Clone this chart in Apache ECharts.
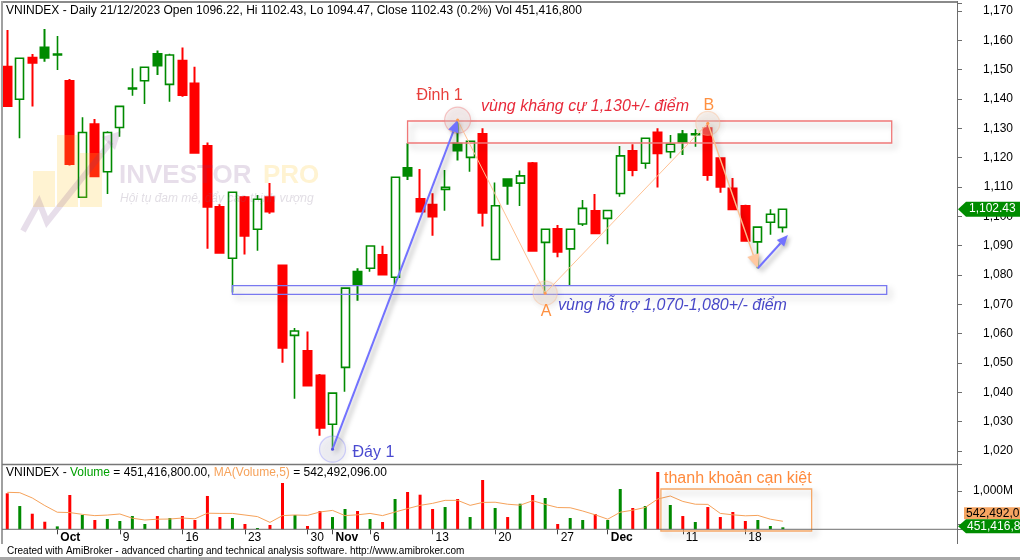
<!DOCTYPE html>
<html><head><meta charset="utf-8">
<script src="https://cdn.jsdelivr.net/npm/echarts@6/dist/echarts.min.js"></script>
<style>html,body{margin:0;padding:0;background:#fff}#c{width:1020px;height:560px}</style>
</head><body><div id="c"></div>
<script>
// ---------------- DATA ----------------
const dates = ['26/09','27/09','28/09','29/09',
 '02/10','03/10','04/10','05/10','06/10','09/10','10/10','11/10','12/10','13/10',
 '16/10','17/10','18/10','19/10','20/10','23/10','24/10','25/10','26/10','27/10','30/10','31/10',
 '01/11','02/11','03/11','06/11','07/11','08/11','09/11','10/11','13/11','14/11','15/11','16/11','17/11',
 '20/11','21/11','22/11','23/11','24/11','27/11','28/11','29/11','30/11',
 '01/12','04/12','05/12','06/12','07/12','08/12','11/12','12/12','13/12','14/12','15/12',
 '18/12','19/12','20/12','21/12'];
const tickDates = ['02/10','09/10','16/10','23/10','30/10','01/11','06/11','13/11','20/11','27/11','01/12','11/12','18/12'];
const tickTexts = ['Oct','9','16','23','30','Nov','6','13','20','27','Dec','11','18'];
const opens  = [1151.0,1139.9,1154.1,1157.6,1155.0,1146.1,1106.5,1131.4,1115.2,1130.3,1143.4,1146.2,1155.3,1145.0,1153.0,1145.3,1124.0,1103.2,1085.7,1106.5,1095.6,1106.5,1083.2,1059.4,1054.1,1045.7,1029.1,1048.5,1081.1,1082.3,1086.8,1079.2,1116.5,1105.9,1103.9,1109.2,1124.7,1120.1,1128.1,1085.3,1112.6,1111.3,1118.1,1091.1,1095.7,1088.9,1097.4,1101.8,1099.3,1107.8,1122.3,1118.1,1128.6,1122.0,1128.0,1127.8,1130.0,1119.8,1109.5,1103.5,1091.3,1098.0,1096.22];
const highs  = [1163.5,1154.0,1155.3,1163.9,1161.5,1146.8,1133.8,1133.2,1129.0,1137.6,1150.5,1150.9,1156.5,1155.4,1157.6,1151.0,1125.2,1104.1,1108.3,1106.9,1107.3,1111.4,1083.4,1061.9,1060.7,1046.2,1039.8,1075.6,1082.3,1090.0,1090.0,1113.4,1124.9,1116.1,1107.9,1115.8,1132.8,1125.7,1130.0,1111.5,1112.8,1115.6,1118.5,1095.7,1097.0,1095.7,1105.6,1107.6,1102.1,1124.0,1124.6,1126.7,1130.0,1127.7,1129.4,1129.7,1131.7,1120.1,1113.1,1103.9,1096.4,1102.4,1102.43];
const lows   = [1137.4,1126.6,1137.4,1152.7,1149.9,1117.3,1106.3,1113.4,1107.6,1127.1,1141.1,1138.3,1148.2,1139.1,1140.8,1121.5,1088.9,1087.4,1074.0,1087.0,1088.3,1100.9,1050.1,1037.8,1042.0,1025.2,1020.6,1040.2,1071.2,1081.1,1079.8,1076.2,1112.4,1101.5,1093.4,1101.9,1119.0,1115.2,1096.5,1085.2,1103.9,1103.5,1088.2,1073.8,1086.0,1076.6,1096.7,1094.1,1090.5,1106.7,1113.7,1116.2,1109.8,1119.8,1120.9,1123.7,1112.1,1108.0,1102.3,1091.6,1082.3,1093.7,1094.47];
const closes = [1137.6,1153.9,1152.4,1154.1,1155.3,1117.8,1128.6,1113.7,1128.6,1137.5,1143.7,1150.8,1151.4,1155.0,1141.4,1121.7,1103.3,1087.6,1108.2,1093.4,1105.8,1101.6,1055.2,1060.9,1042.3,1027.9,1039.7,1075.5,1076.6,1089.9,1080.2,1113.3,1113.8,1101.6,1099.9,1109.9,1122.4,1125.6,1101.2,1103.6,1110.4,1113.8,1088.3,1095.6,1087.9,1095.6,1102.7,1094.2,1102.0,1120.6,1115.8,1126.6,1121.5,1124.6,1125.4,1128.1,1114.1,1110.1,1102.4,1091.7,1096.3,1100.7,1102.43];
const volumesM = [965,773,657,536,466,940,638,562,577,547,622,502,622,592,622,562,925,607,592,502,441,487,1121,638,472,698,607,728,698,577,532,879,985,944,728,758,879,607,1166,743,607,808,940,894,502,592,562,653,562,1030,743,773,1287,789,622,532,758,607,683,547,562,472,451.4168];
const maHeadM = [980,975,895,780]; // MA(5) values read for the first bars (earlier volumes are off-chart)
// annotation anchors in data coordinates [barIndex, price]
const day1 = [26, 1020.6], peak1 = [36, 1132.8], ptA = [43, 1073.8], ptB = [56, 1131.7], lowEnd = [60, 1082.3], bounceEnd = [62.4, 1093.6];
const resistZone = [32, 70.7, 1125.0, 1132.5];
const supportZone = [18, 70.3, 1073.4, 1076.4];
const liquidityZone = [52.25, 64.3, 396, 1030];

// ---------------- BUILD ----------------
const G = '#008a00', R = '#ff0000';
const NBLANK = 13;
const cats = dates.concat(Array.from({length:NBLANK},(_,i)=>'b'+i));
const labelAt = {};
tickDates.forEach((d,k)=>{ labelAt[dates.indexOf(d)] = tickTexts[k]; });
const ma = volumesM.map((v,i)=>{
  if (i < 4) return maHeadM[i];
  let s=0; for(let k=i-4;k<=i;k++) s+=volumesM[k]; return +(s/5).toFixed(1);
});
const candleData = opens.map((o,i)=>{
  const c = closes[i];
  const ref = i===0 ? o : closes[i-1];
  const col = c > ref ? G : R;
  const up = c > o;
  return {value:[o,c,lows[i],highs[i]], itemStyle:{
    color: up ? '#ffffff' : col, color0: col, borderColor: col, borderColor0: col,
    borderWidth: up ? 1.6 : 2 }};
});
const volData = volumesM.map((v,i)=>({value:v, itemStyle:{color: closes[i]>opens[i] ? G : R}}));

const BW = 12.51, N = cats.length;
const gridW = N*BW, gridL = 1, axisX = 957;
const yOff = axisX - (gridL + gridW);
const FONT = '"Liberation Sans", Arial, sans-serif';

const chart = echarts.init(document.getElementById('c'), null, {renderer:'canvas'});
const option = {
  animation:false,
  backgroundColor:'#ffffff',
  grid:[
    {left:gridL, width:gridW, top:3, height:461, outerBoundsMode:'none'},
    {left:gridL, width:gridW, top:464, height:65.3, outerBoundsMode:'none'}
  ],
  xAxis:[
    {type:'category', gridIndex:0, data:cats, show:false, boundaryGap:true},
    {type:'category', gridIndex:1, data:cats, boundaryGap:true,
     axisLine:{show:false},
     axisTick:{show:true, alignWithLabel:true, length:5, interval:(idx)=>labelAt[idx]!==undefined, lineStyle:{color:'#444'}},
     axisLabel:{show:true, interval:(idx)=>labelAt[idx]!==undefined, align:'left', margin:2, padding:[0,0,0,3],
       color:'#000', fontFamily:FONT, fontSize:12,
       formatter:(v,idx)=>{ const t = labelAt[idx]; if(!t) return ''; return /^[A-Z]/.test(t) ? '{b|'+t+'}' : t; },
       rich:{b:{fontWeight:'bold', fontFamily:FONT, fontSize:12, color:'#000'}}},
     splitLine:{show:false}}
  ],
  yAxis:[
    {type:'value', gridIndex:0, position:'right', offset:yOff, min:1015.55, max:1172.73,
     splitNumber:15, minInterval:10, maxInterval:10, scale:true,
     axisLine:{show:true, lineStyle:{color:'#6e6e6e', width:1}},
     axisTick:{show:true, length:5, lineStyle:{color:'#6e6e6e'}},
     axisLabel:{align:'right', margin:56, color:'#000', fontFamily:FONT, fontSize:12,
       showMinLabel:true, showMaxLabel:true,
       formatter:(v)=>{ const r=Math.round(v); return (Math.abs(v-r)<1e-6 && r%10===0) ? r.toLocaleString('en-US') : ''; }},
     splitLine:{show:false}},
    {type:'value', gridIndex:1, position:'right', offset:yOff, min:421.7, max:1407.7,
     splitNumber:2, minInterval:500, maxInterval:500,
     axisLine:{show:true, lineStyle:{color:'#6e6e6e', width:1}},
     axisTick:{show:true, length:5, lineStyle:{color:'#6e6e6e'}},
     axisLabel:{align:'right', margin:56, color:'#000', fontFamily:FONT, fontSize:12,
       formatter:(v)=> Math.abs(v-1000)<1e-6 ? '1,000M' : ''},
     splitLine:{show:false}}
  ],
  series:[
    {type:'candlestick', xAxisIndex:0, yAxisIndex:0, data:candleData, barWidth:8.5, z:3},
    {type:'bar', xAxisIndex:1, yAxisIndex:1, data:volData, barWidth:3, clip:true, z:3},
    {type:'line', xAxisIndex:1, yAxisIndex:1, data:ma, symbol:'none', lineStyle:{color:'#f6a25a', width:1}, itemStyle:{color:'#f6a25a'}, z:4}
  ]
};
chart.setOption(option);

// ---------- annotations anchored to data coordinates ----------
const x0 = chart.convertToPixel({xAxisIndex:0}, 0);
const x1 = chart.convertToPixel({xAxisIndex:0}, 1);
const X = i => x0 + i*(x1-x0);
const Y = p => chart.convertToPixel({yAxisIndex:0}, p);
const YV = v => chart.convertToPixel({yAxisIndex:1}, v);
const pt = a => [X(a[0]), Y(a[1])];

const els = [];
function line(p, q, color, w, z, shadow){
  els.push({type:'line', z:z||20, shape:{x1:p[0],y1:p[1],x2:q[0],y2:q[1]},
    style:Object.assign({stroke:color, lineWidth:w}, shadow?{shadowBlur:5, shadowColor:'rgba(0,0,0,0.35)', shadowOffsetX:3, shadowOffsetY:3}:{})});
}
function arrow(p, q, color, w, head, headFill, z){
  const dx=q[0]-p[0], dy=q[1]-p[1], L=Math.hypot(dx,dy), ux=dx/L, uy=dy/L;
  const bx=q[0]-ux*head, by=q[1]-uy*head, hw=head*0.45;
  line(p, [bx,by], color, w, z, true);
  els.push({type:'polygon', z:(z||20)+1, shape:{points:[[q[0],q[1]],[bx-uy*hw,by+ux*hw],[bx+uy*hw,by-ux*hw]]},
    style:{fill:headFill||color, shadowBlur:4, shadowColor:'rgba(0,0,0,0.3)', shadowOffsetX:2, shadowOffsetY:2}});
}
function circle(c, r, fill, stroke){
  els.push({type:'circle', z:19, shape:{cx:c[0], cy:c[1], r:r},
    style:{fill:fill, stroke:stroke, lineWidth:1.2, shadowBlur:6, shadowColor:'rgba(0,0,0,0.18)', shadowOffsetX:2, shadowOffsetY:2}});
}
function text(x, y, t, color, font, align){
  els.push({type:'text', z:30, x:x, y:y, style:{text:t, fill:color, font:font, textAlign:align||'left', textVerticalAlign:'middle'}});
}
function zoneRect(z4, yf, color){
  const xa=X(z4[0]), xb=X(z4[1]), ya=yf(z4[3]), yb=yf(z4[2]);
  els.push({type:'rect', z:18, shape:{x:xa, y:ya, width:xb-xa, height:yb-ya},
    style:{fill:'rgba(255,255,255,0)', stroke:color, lineWidth:1.3, shadowBlur:6, shadowColor:'rgba(0,0,0,0.25)', shadowOffsetX:4, shadowOffsetY:4}});
}

// watermark (semi-transparent, over the candles)
const wmP = 'rgba(110,60,130,0.17)', wmY = 'rgba(255,200,50,0.22)';
[[33,171,22,36],[57,135,21,72],[80,153,22,54]].forEach(r=>els.push({type:'rect', z:40, shape:{x:r[0],y:r[1],width:r[2],height:r[3]}, style:{fill:wmY}}));
els.push({type:'polyline', z:40, shape:{points:[[23,231],[39,202],[47,222],[111,142]]}, style:{stroke:wmP, lineWidth:6, fill:null, lineJoin:'miter'}});
els.push({type:'polygon', z:40, shape:{points:[[121,131],[102,137],[115,150]]}, style:{fill:wmP}});
els.push({type:'text', z:40, x:119, y:176, style:{text:'INVESTOR', fill:wmP, font:'bold 26px '+FONT, textVerticalAlign:'middle'}});
els.push({type:'text', z:40, x:263, y:176, style:{text:'PRO', fill:wmY, font:'bold 26px '+FONT, textVerticalAlign:'middle'}});
els.push({type:'text', z:40, x:120, y:199, style:{text:'Hội tụ đam mê, đẩy cao thịnh vượng', fill:'rgba(120,100,130,0.22)', font:'italic 12px '+FONT, textVerticalAlign:'middle'}});

// zones
zoneRect(resistZone, Y, '#f07878');
zoneRect(supportZone, Y, '#7878f0');
zoneRect(liquidityZone, YV, '#f5a868');

// circles
circle(pt(day1), 13, 'rgba(215,215,235,0.28)', 'rgba(130,130,255,0.35)');
circle(pt(peak1), 13, 'rgba(235,205,205,0.30)', 'rgba(240,130,130,0.45)');
circle(pt(ptA), 12, 'rgba(240,222,205,0.35)', 'rgba(250,190,150,0.45)');
circle(pt(ptB), 12, 'rgba(240,222,205,0.35)', 'rgba(250,190,150,0.45)');

// path lines
line(pt(peak1), pt(ptA), '#ffc294', 1, 21);
line(pt(ptA), pt(ptB), '#ffc294', 1, 21);
arrow(pt(ptB), pt(lowEnd), '#ffbe8c', 1.4, 14, '#ffc8a0', 21);
arrow(pt(day1), pt(peak1), '#7272ff', 2, 12, '#7272ff', 22);
arrow(pt(lowEnd), pt(bounceEnd), '#7272ff', 2, 11, '#7272ff', 22);
[day1, peak1, ptA, ptB].forEach((a,k)=>els.push({type:'circle', z:23, shape:{cx:X(a[0]), cy:Y(a[1]), r:1.5}, style:{fill:k<1?'#5050e0':'#ff9a50'}}));

// annotation labels
const ANN = '"Liberation Sans", Arial, sans-serif';
text(X(peak1[0])-18, Y(peak1[1])-25, 'Đỉnh 1', '#e8403c', '16px '+ANN, 'center');
text(481, Y(peak1[1])-14, 'vùng kháng cự 1,130+/- điểm', '#e82a3a', 'italic 16px '+ANN);
text(X(ptB[0])+1, Y(ptB[1])-18, 'B', '#ff9040', '16px '+ANN, 'center');
text(X(ptA[0])+1, Y(ptA[1])+18, 'A', '#ff9040', '16px '+ANN, 'center');
text(558, Y(ptA[1])+12, 'vùng hỗ trợ 1,070-1,080+/- điểm', '#4848c8', 'italic 16px '+ANN);
text(X(day1[0])+20, Y(day1[1])+3, 'Đáy 1', '#4a4ad0', '16px '+ANN);
text(664, 479, 'thanh khoản cạn kiệt', '#ff8a3c', '16px '+ANN);

// headers
els.push({type:'text', z:30, x:6, y:11, style:{text:'VNINDEX - Daily 21/12/2023 Open 1096.22, Hi 1102.43, Lo 1094.47, Close 1102.43 (0.2%) Vol 451,416,800', fill:'#000', font:'12px '+FONT, textVerticalAlign:'middle'}});
els.push({type:'text', z:30, x:6, y:473, style:{text:'{a|VNINDEX - }{g|Volume}{a| = 451,416,800.00, }{o|MA(Volume,5)}{a| = 542,492,096.00}', font:'12px '+FONT, textVerticalAlign:'middle',
  rich:{a:{fill:'#000', font:'12px '+FONT}, g:{fill:'#00a000', font:'12px '+FONT}, o:{fill:'#f6a25a', font:'12px '+FONT}}}});
els.push({type:'text', z:30, x:7, y:551, style:{text:'Created with AmiBroker - advanced charting and technical analysis software. http://www.amibroker.com', fill:'#000', font:'10px '+FONT, textVerticalAlign:'middle'}});

// right-side value tags
const yc = Y(closes[closes.length-1]);
els.push({type:'polygon', z:30, shape:{points:[[958,yc],[966,yc-7.5],[1020,yc-7.5],[1020,yc+7.5],[966,yc+7.5]]}, style:{fill:'#008c00'}});
text(969, yc, '1,102.43', '#ffffff', '12px '+FONT);
const gy = YV(volumesM[volumesM.length-1]) - 1, oy = gy - 13;
els.push({type:'rect', z:30, shape:{x:964, y:oy-6, width:56, height:12}, style:{fill:'#f6a562'}});
text(966, oy, '542,492,096', '#000', '12px '+FONT);
els.push({type:'polygon', z:30, shape:{points:[[958,gy],[966,gy-7],[1020,gy-7],[1020,gy+7],[966,gy+7]]}, style:{fill:'#008c00'}});
text(967, gy, '451,416,800', '#ffffff', '12px '+FONT);

// frame
const fr = '#8a8a8a';
const baseY = YV(421.7);
els.push({type:'line', z:50, shape:{x1:1, y1:2, x2:axisX, y2:2}, style:{stroke:fr, lineWidth:2}});
els.push({type:'line', z:50, shape:{x1:2, y1:1, x2:2, y2:544}, style:{stroke:'#a0a0a0', lineWidth:2}});
els.push({type:'line', z:50, shape:{x1:axisX+0.5, y1:1, x2:axisX+0.5, y2:544}, style:{stroke:'#6e6e6e', lineWidth:1}});
els.push({type:'line', z:50, shape:{x1:2, y1:464.5, x2:axisX, y2:464.5}, style:{stroke:'#777', lineWidth:1.5}});
els.push({type:'line', z:50, shape:{x1:2, y1:baseY, x2:axisX, y2:baseY}, style:{stroke:'#6e6e6e', lineWidth:1}});
els.push({type:'rect', z:50, shape:{x:0, y:557, width:1020, height:3}, style:{fill:'#a8a8a8'}});

chart.setOption({graphic:{elements:els}});
</script></body></html>
